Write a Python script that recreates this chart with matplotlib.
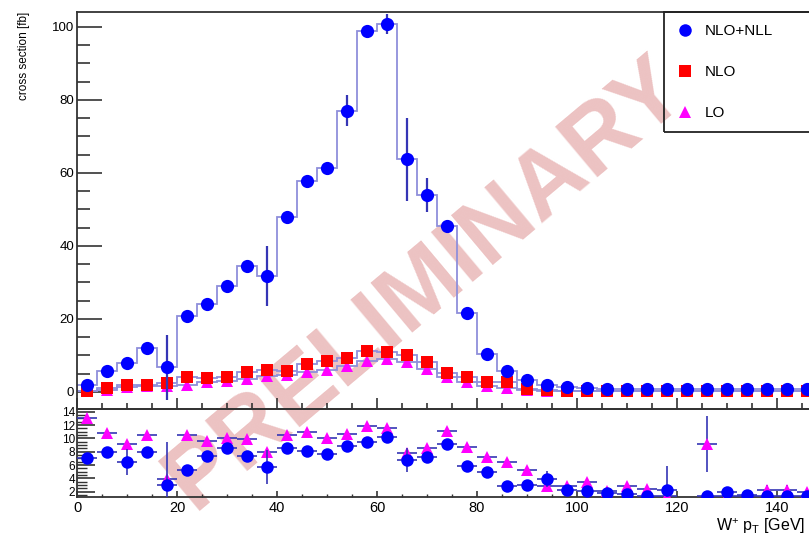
import numpy as np
import matplotlib
matplotlib.use('Agg')
import matplotlib.pyplot as plt
from matplotlib.ticker import MultipleLocator
from matplotlib.lines import Line2D

plt.rcParams['font.family'] = ['Liberation Sans', 'DejaVu Sans']
plt.rcParams['mathtext.fontset'] = 'custom'
plt.rcParams['mathtext.rm'] = 'Liberation Sans'
plt.rcParams['mathtext.default'] = 'regular'

# 4 GeV bins, W+ pT
bin_edges = np.arange(0, 149, 4)
bin_centers = bin_edges[:-1] + 2

# cross section [fb]
nlo_nll = [1.9, 5.8, 7.9, 12.1, 6.7, 20.9, 24.1, 29.0, 34.4, 31.8, 47.9, 57.8, 61.4,
           77.1, 98.9, 100.8, 63.7, 54.0, 45.5, 21.7, 10.5, 5.7, 3.2, 1.8, 1.3,
           1.0, 0.8, 0.8, 0.8, 0.7, 0.7, 0.8, 0.7, 0.7, 0.7, 0.7, 0.7]
nlo_nll_err = [0.5, 0.5, 0.5, 1.0, 8.9, 0.5, 0.5, 0.5, 0.5, 8.2, 0.5, 0.5, 0.5,
               4.3, 1.0, 2.7, 11.4, 4.6, 0.5, 0.5, 0.5, 0.5, 0.3, 0.3, 0.3,
               0.2, 0.2, 0.2, 0.2, 0.2, 0.2, 0.2, 0.2, 0.2, 0.2, 0.2, 0.2]
nlo = [0.3, 1.0, 1.9, 1.9, 2.4, 4.2, 3.7, 4.0, 5.4, 6.0, 5.8, 7.7, 8.5,
       9.4, 11.3, 10.8, 10.2, 8.1, 5.3, 4.0, 2.6, 2.6, 0.9, 0.4, 0.35,
       0.35, 0.35, 0.35, 0.35, 0.35, 0.35, 0.35, 0.35, 0.35, 0.35, 0.35, 0.35]
lo = [0.35, 0.55, 1.2, 1.5, 1.6, 1.9, 2.6, 3.0, 3.5, 4.4, 4.7, 5.4, 6.0,
      7.2, 8.5, 8.9, 8.1, 6.2, 4.2, 2.8, 1.5, 1.0, 0.55, 0.3, 0.3,
      0.3, 0.3, 0.3, 0.3, 0.3, 0.3, 0.3, 0.3, 0.3, 0.3, 0.3, 0.3]

# ratio panel
ratio_nlo = [7.05, 7.95, 6.45, 7.95, 2.95, 5.3, 7.4, 8.5, 7.4, 5.7, 8.5, 8.15, 7.7,
             8.9, 9.4, 10.15, 6.7, 7.15, 9.15, 5.9, 4.95, 2.9, 3.05, 3.95, 2.2,
             2.05, 1.8, 1.7, 1.4, 2.2, np.nan, 1.3, 1.9, 1.55, 1.3, 1.3, 1.4]
ratio_nlo_err = [0.3, 0.3, 2.0, 0.3, 6.5, 0.7, 0.3, 0.3, 0.3, 2.5, 0.3, 0.3, 0.3,
                 0.3, 0.3, 0.3, 1.8, 0.3, 0.3, 0.3, 0.3, 0.3, 0.3, 1.2, 0.3,
                 0.3, 0.3, 0.3, 0.3, 3.6, 0.0, 0.3, 0.3, 0.3, 0.3, 0.3, 0.3]
ratio_lo = [13.05, 10.8, 9.2, 10.45, 3.95, 10.45, 9.55, 10.05, 9.95, 7.95, 10.55, 10.9, 10.05,
            10.65, 11.8, 11.55, 7.8, 8.55, 11.05, 8.7, 7.2, 6.4, 5.2, 2.9, 2.85,
            3.4, 2.15, 2.8, 2.4, 1.3, np.nan, 9.2, 1.3, 1.3, 2.3, 2.3, 1.9]
ratio_lo_err = [0.2, 0.2, 0.2, 0.2, 0.2, 0.2, 0.2, 0.2, 0.2, 0.2, 0.2, 0.2, 0.2,
                0.2, 0.2, 0.2, 0.2, 0.2, 0.2, 0.2, 0.2, 0.2, 0.2, 0.2, 0.2,
                0.2, 0.2, 0.2, 0.2, 0.2, 0.0, 4.2, 0.2, 0.2, 0.7, 0.7, 0.2]

step_col = '#8f8fdb'
err_col = '#3535b5'
spine_col = '#333333'

fig = plt.figure(figsize=(8.09, 5.36), dpi=100)
ax = fig.add_axes([77/809, 1-409/536, 750/809, 397/536], facecolor='none')
axr = fig.add_axes([77/809, 1-497/536, 750/809, 88/536], facecolor='none', sharex=ax)

# watermark behind everything
fig.text(426/809, 1-284/536, 'PRELIMINARY', rotation=40, fontsize=68, fontweight='bold',
         color='#dd9090', alpha=0.55, ha='center', va='center', zorder=-1)

# top panel
for vals in (lo, nlo, nlo_nll):
    ax.stairs(vals, bin_edges, color=step_col, lw=1.3, zorder=2)
ax.errorbar(bin_centers, lo, fmt='^', color='magenta', ms=8.5, mew=0, zorder=3)
ax.errorbar(bin_centers, nlo, fmt='s', color='red', ms=8.5, mew=0, zorder=4)
ax.errorbar(bin_centers, nlo_nll, yerr=nlo_nll_err, fmt='o', color='blue', ms=9.5, mew=0,
            ecolor=err_col, elinewidth=1.6, zorder=5)

ax.set_xlim(0, 150)
ax.set_ylim(-4.7, 104.1)
ax.xaxis.set_major_locator(MultipleLocator(20))
ax.xaxis.set_minor_locator(MultipleLocator(5))
ax.yaxis.set_major_locator(MultipleLocator(20))
ax.yaxis.set_minor_locator(MultipleLocator(5))
ax.tick_params(axis='y', which='major', direction='in', length=18, width=1.2,
               labelsize=9.5, pad=2, colors=spine_col, labelcolor='black')
ax.tick_params(axis='y', which='minor', direction='in', length=9.4, width=1.2, colors=spine_col)
ax.tick_params(axis='x', which='major', direction='in', length=8, width=1.2,
               labelbottom=False, colors=spine_col)
ax.tick_params(axis='x', which='minor', direction='in', length=4.5, width=1.2, colors=spine_col)
for s in ax.spines.values():
    s.set_color(spine_col)
    s.set_linewidth(1.3)

ax.set_ylabel('cross section [fb]', fontsize=8.5, loc='top')
ax.yaxis.set_label_coords(-0.062, 1.0)

handles = [Line2D([], [], ls='none', marker='o', color='blue', ms=9, mew=0),
           Line2D([], [], ls='none', marker='s', color='red', ms=8, mew=0),
           Line2D([], [], ls='none', marker='^', color='magenta', ms=8.5, mew=0)]
leg = ax.legend(handles, ['NLO+NLL', 'NLO', 'LO'], loc='upper left',
                bbox_to_anchor=(664/809, 1-145/536, 0.4, 133/536),
                bbox_transform=fig.transFigure, mode='expand', fontsize=11,
                frameon=True, fancybox=False, framealpha=1, facecolor='none',
                edgecolor='#222222', borderpad=0.8, labelspacing=1.76,
                handlelength=1.2, handletextpad=0.7, borderaxespad=0)
leg.get_frame().set_linewidth(1.3)

# ratio panel
axr.errorbar(bin_centers, ratio_lo, xerr=2, yerr=ratio_lo_err, fmt='^', color='magenta',
             ms=8.5, mew=0, ecolor=err_col, elinewidth=1.2, zorder=3)
axr.errorbar(bin_centers, ratio_nlo, xerr=2, yerr=ratio_nlo_err, fmt='o', color='blue',
             ms=9, mew=0, ecolor=err_col, elinewidth=1.2, zorder=4)
axr.set_ylim(1.2, 14.4)
axr.yaxis.set_major_locator(MultipleLocator(2))
axr.yaxis.set_minor_locator(MultipleLocator(0.5))
axr.tick_params(axis='y', which='major', direction='in', length=13, width=1.2,
                labelsize=8.5, pad=1.5, colors=spine_col, labelcolor='black')
axr.tick_params(axis='y', which='minor', direction='in', length=7, width=1.0, colors=spine_col)
axr.tick_params(axis='x', which='major', direction='in', length=4.5, width=1.2,
                labelsize=10.5, pad=3, colors=spine_col, labelcolor='black')
axr.tick_params(axis='x', which='minor', direction='in', length=2.5, width=1.0, colors=spine_col)
for s in axr.spines.values():
    s.set_color(spine_col)
    s.set_linewidth(1.3)
axr.set_xlabel('W$^{+}$ p$_{T}$ [GeV]', fontsize=11.5, labelpad=2)
axr.xaxis.label.set_horizontalalignment('right')
axr.xaxis.set_label_coords(728/750, -0.215)

fig.savefig('out.png', dpi=100)
